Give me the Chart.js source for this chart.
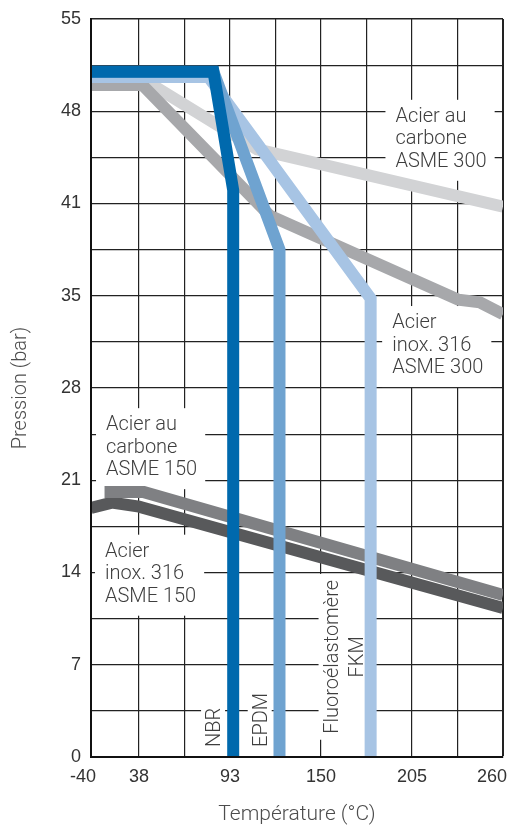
<!DOCTYPE html>
<html lang="fr">
<head>
<meta charset="utf-8">
<script src="https://cdn.jsdelivr.net/npm/chart.js"></script>
<style>
    html, body { margin: 0; padding: 0; background: #fff; }
    canvas { display: block; }
</style>
</head>
<body>
<canvas id="chart-pressure" width="513" height="827"></canvas>
<script>
// axis tick labels (the axes are drawn stepwise, one grid step per label)
const xTicks = [-40, 38, 93, 150, 205, 260];
const yTicks = [0, 7, 14, 21, 28, 35, 41, 48, 55];

// température (°C) / pression (bar)
const nbrTemp = [-40, 83, 95, 95];
const nbrBar = [51.0, 51.0, 42.0, 0];

const epdmTemp = [-40, 83, 124, 124];
const epdmBar = [51.0, 51.0, 38.0, 0];

const fkmTemp = [-40, 80, 180, 180];
const fkmBar = [50.6, 50.6, 34.8, 0];

const inox300Temp = [-40, 40, 118, 233, 246, 260];
const inox300Bar = [50.0, 50.0, 40.2, 34.7, 34.5, 33.6];

const carbon300Temp = [-40, 46, 110, 260];
const carbon300Bar = [50.0, 50.0, 45.1, 40.8];

const carbon150Temp = [-18, 41, 260];
const carbon150Bar = [20.1, 20.1, 12.3];

const inox150Temp = [-40, -6, 38, 260];
const inox150Bar = [18.9, 19.3, 19.0, 11.3];

const notes = [
    { lines: ['Acier au', 'carbone', 'ASME 300'], x: 195, y: 47.2 },
    { lines: ['Acier', 'inox. 316', 'ASME 300'], x: 193, y: 32.55 },
    { lines: ['Acier au', 'carbone', 'ASME 150'], x: -15.6, y: 24.8 },
    { lines: ['Acier', 'inox. 316', 'ASME 150'], x: -17.3, y: 15.2 },
    { lines: ['NBR'], x: 87, y: 0.76, vertical: true },
    { lines: ['EPDM'], x: 116, y: 0.76, vertical: true },
    { lines: ['Fluoroélastomère', 'FKM'], x: 160, y: 7.6, vertical: true, align: 'center' },
];

// relative width of each step between two tick labels
const axisSpans = {
    x: [48, 91, 91, 91, 91],
    y: [1, 1, 1, 1, 1, 1, 1, 1],
};

const pts = (xs, ys) => xs.map((t, i) => ({ x: t, y: ys[i] }));

// linear scale, but piecewise between the labelled ticks
class SteppedScale extends Chart.LinearScale {
    static id = 'stepped';

    stops() {
        return this.id === 'x' ? xTicks : yTicks;
    }

    buildTicks() {
        const stops = this.stops();
        const ticks = [];

        stops.forEach((v, i) => {
            ticks.push({ value: v });
            const next = stops[i + 1];
            if (next !== undefined && !(this.id === 'x' && i === 0)) {
                ticks.push({ value: (v + next) / 2 });
            }
        });

        return ticks;
    }

    getPixelForValue(value) {
        const stops = this.stops();
        const spans = axisSpans[this.id];
        const total = spans.reduce((a, b) => a + b, 0);
        let i = 0;
        let acc = 0;

        while (i < spans.length - 1 && value > stops[i + 1]) {
            acc += spans[i];
            i++;
        }

        const f = (value - stops[i]) / (stops[i + 1] - stops[i]);
        return this.getPixelForDecimal((acc + f * spans[i]) / total);
    }

    getValueForPixel(pixel) {
        const stops = this.stops();
        const spans = axisSpans[this.id];
        const total = spans.reduce((a, b) => a + b, 0);
        let d = this.getDecimalForPixel(pixel) * total;
        let i = 0;

        while (i < spans.length - 1 && d > spans[i]) {
            d -= spans[i];
            i++;
        }

        return stops[i] + (d / spans[i]) * (stops[i + 1] - stops[i]);
    }

    _computeLabelItems(chartArea) {
        const items = super._computeLabelItems(chartArea);

        if (this.id === 'x' && items.length) {
            items[0].options.translation[0] -= 21;
            items[items.length - 1].options.translation[0] += 4;
        }

        return items;
    }
}

Chart.register(SteppedScale);

const notesPlugin = {
    id: 'notes',
    beforeDatasetsDraw(chart) {
        const { ctx, scales: { x, y } } = chart;

        ctx.save();
        ctx.font = '300 20px Roboto';
        ctx.textBaseline = 'alphabetic';

        notes.forEach((n) => {
            const px = x.getPixelForValue(n.x);
            const py = y.getPixelForValue(n.y);
            const w = Math.max(...n.lines.map((l) => ctx.measureText(l).width));

            ctx.save();
            ctx.translate(px, py);

            if (n.vertical) {
                const lh = 25;
                const x0 = n.align === 'center' ? -w / 2 : 0;
                ctx.rotate(-Math.PI / 2);
                ctx.fillStyle = '#fff';
                ctx.fillRect(x0 - 6, -19, w + 12, (n.lines.length - 1) * lh + 24);
                ctx.fillStyle = '#3e3e3e';
                ctx.textAlign = n.align || 'left';
                n.lines.forEach((l, i) => ctx.fillText(l, 0, i * lh));
            } else {
                const lh = 22.5;
                ctx.fillStyle = '#fff';
                ctx.fillRect(-10, -22, w + 18, (n.lines.length - 1) * lh + 36);
                ctx.fillStyle = '#3e3e3e';
                ctx.textAlign = 'left';
                n.lines.forEach((l, i) => ctx.fillText(l, 0, i * lh));
            }

            ctx.restore();
        });

        ctx.restore();
    },
};

const line = (label, color, data) => ({
    label: label,
    data: data,
    borderColor: color,
    backgroundColor: color,
    borderWidth: 12,
    borderJoinStyle: 'miter',
    borderCapStyle: 'butt',
    pointRadius: 0,
    tension: 0,
    fill: false,
    clip: 0,
});

new Chart(document.getElementById('chart-pressure').getContext('2d'), {
    type: 'line',
    data: {
        datasets: [
            line('NBR', '#0069ad', pts(nbrTemp, nbrBar)),
            line('EPDM', '#6fa3d0', pts(epdmTemp, epdmBar)),
            line('Fluoroélastomère FKM', '#a7c4e4', pts(fkmTemp, fkmBar)),
            line('Acier inox. 316 ASME 300', '#a7a8ab', pts(inox300Temp, inox300Bar)),
            line('Acier au carbone ASME 300', '#d2d3d5', pts(carbon300Temp, carbon300Bar)),
            line('Acier au carbone ASME 150', '#7f8083', pts(carbon150Temp, carbon150Bar)),
            line('Acier inox. 316 ASME 150', '#58595b', pts(inox150Temp, inox150Bar)),
        ],
    },
    options: {
        responsive: false,
        animation: false,
        events: [],
        layout: {
            padding: { top: 19, right: 10, left: 0, bottom: 0 },
        },
        plugins: {
            legend: { display: false },
            tooltip: { enabled: false },
        },
        scales: {
            x: {
                type: 'stepped',
                min: -40,
                max: 260,
                afterFit(scale) {
                    scale.height = 70;
                    scale.paddingLeft = 0;
                    scale.paddingRight = 0;
                },
                ticks: {
                    autoSkip: false,
                    maxRotation: 0,
                    align: 'inner',
                    padding: 9,
                    color: '#333',
                    font: { family: 'Liberation Sans', size: 18 },
                    callback: (v) => (xTicks.includes(v) ? String(v) : ''),
                },
                grid: {
                    color: '#222',
                    lineWidth: (c) => (c.tick && c.tick.value === 260 ? 2 : 1.2),
                    drawTicks: false,
                },
                border: { color: '#111', width: 2, z: 1 },
                title: {
                    display: true,
                    text: 'Température (°C)',
                    color: '#4d4d4d',
                    font: { family: 'Roboto', size: 21, weight: '300' },
                    padding: { top: 0, bottom: 0 },
                },
            },
            y: {
                type: 'stepped',
                min: 0,
                max: 55,
                afterFit(scale) {
                    scale.width = 91;
                    scale.paddingTop = 0;
                    scale.paddingBottom = 0;
                },
                ticks: {
                    autoSkip: false,
                    padding: 10,
                    color: '#333',
                    font: { family: 'Liberation Sans', size: 18 },
                    callback: (v) => (yTicks.includes(v) ? String(v) : ''),
                },
                grid: {
                    color: '#222',
                    lineWidth: (c) => (c.tick && c.tick.value === 55 ? 1.6 : 1.2),
                    drawTicks: false,
                },
                border: { color: '#111', width: 2, z: 1 },
                title: {
                    display: true,
                    text: 'Pression (bar)',
                    color: '#4d4d4d',
                    font: { family: 'Roboto', size: 20, weight: '300' },
                    padding: { top: 9, bottom: 0 },
                },
            },
        },
    },
    plugins: [notesPlugin],
});
</script>
</body>
</html>
